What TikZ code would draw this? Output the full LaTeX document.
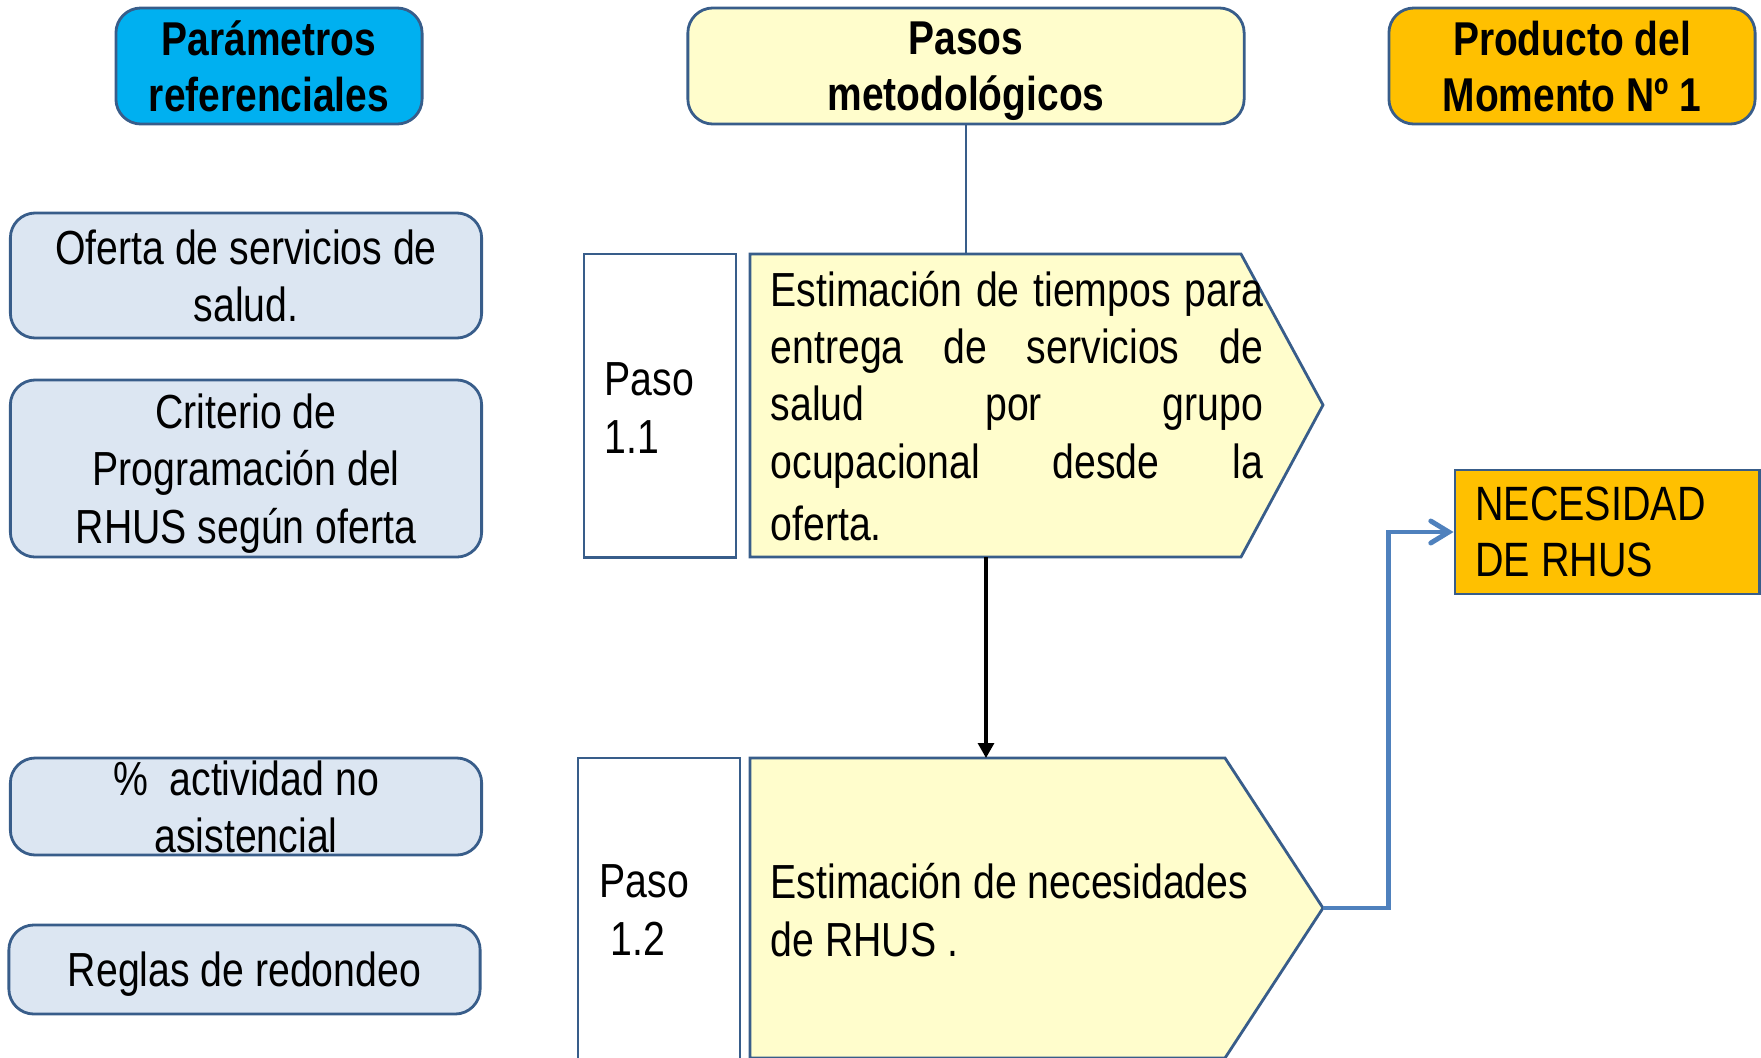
\documentclass[tikz,border=0pt]{standalone}
\usepackage{fontspec}
\setmainfont{Liberation Sans}[FakeStretch=0.82]
\usetikzlibrary{arrows.meta}

\definecolor{borde}{HTML}{385D8A}
\definecolor{celeste}{HTML}{00B0F0}
\definecolor{crema}{HTML}{FFFDCC}
\definecolor{ambar}{HTML}{FFC000}
\definecolor{gris}{HTML}{DCE6F2}
\definecolor{flecha}{HTML}{4F81BD}

\newcommand{\linea}[1]{\makebox[4.92cm][s]{#1}}

\begin{document}
\begin{tikzpicture}[x=0.01cm,y=-0.01cm,
    letra/.style={font=\fontsize{13.6}{16.3}\selectfont,text depth=0pt},
    titulo/.style={draw=borde,line width=0.8pt,rounded corners=0.25cm,align=center,inner sep=0,minimum height=1.16cm,text depth=0pt,font=\fontsize{13.5}{16}\selectfont\bfseries},
    param/.style={draw=borde,line width=0.8pt,fill=gris,rounded corners=0.25cm,inner sep=0,minimum width=4.71cm},
    paso/.style={draw=borde,line width=0.8pt,fill=white,inner sep=0,minimum width=1.52cm},
    bloque/.style={draw=borde,line width=0.8pt,fill=crema}
]
\useasboundingbox (0,0) rectangle (1761,1057);

\node[titulo,fill=celeste,minimum width=3.06cm] (param) at (269,66) {Parámetros\\referenciales};
\node[titulo,fill=crema,minimum width=5.56cm] (pasos) at (966,66) {Pasos\\metodológicos};
\node[titulo,fill=ambar,minimum width=3.66cm] (producto) at (1572,66) {Producto del\\Momento Nº 1};

\node[param,minimum height=1.25cm,label={[letra,align=center]center:{Oferta de servicios de\\salud.}}] (oferta) at (246,275.5) {};
\node[param,minimum height=1.77cm,label={[letra,align=center]center:{Criterio de\\Programación del\\RHUS según oferta}}] (criterio) at (246,468.5) {};
\node[param,minimum height=0.97cm,label={[letra,align=center]center:{\%\ \ actividad no\\asistencial}}] (actividad) at (246,806.5) {};
\node[param,minimum height=0.89cm,label={[letra,align=center]center:{Reglas de redondeo}}] (reglas) at (244.5,969.5) {};

\node[paso,minimum height=3.03cm] (p11) at (660,405.5) {};
\node[letra,align=left,anchor=west,inner sep=0] (p11txt) at (604,408) {Paso\\1.1};
\node[paso,minimum width=1.62cm,minimum height=3.1cm] (p12) at (659,913) {};
\node[letra,align=left,anchor=west,inner sep=0] (p12txt) at (599,910) {Paso\\\ 1.2};

\filldraw[bloque] (750,254) -- (1241,254) -- (1323,405) coordinate (e1tip) -- (1241,557) -- (750,557) -- cycle;
\coordinate (e1n) at (966,254);
\coordinate (e1s) at (986,557);
\node[letra,align=left,anchor=west,inner sep=0] (e1txt) at (770,405.5)
  {\linea{Estimación de tiempos para}\\\linea{entrega de servicios de}\\\linea{salud por grupo}\\\linea{ocupacional desde la}\\[0.045cm]oferta.};

\filldraw[bloque] (750,758) -- (1225,758) -- (1323,908) coordinate (e2tip) -- (1225,1058) -- (750,1058) -- cycle;
\coordinate (e2n) at (986,758);
\node[letra,align=left,anchor=west,inner sep=0] (e2txt) at (770,910) {Estimación de necesidades\\de RHUS .};

\node[draw=borde,line width=0.8pt,fill=ambar,minimum width=3.04cm,minimum height=1.24cm,inner sep=0,
  label={[anchor=west,align=left,inner sep=0,xshift=0.21cm,text depth=0pt,font=\fontsize{13.7}{16}\selectfont]west:{NECESIDAD\\DE RHUS}}] (necesidad) at (1607,532) {};

\draw[borde,line width=0.8pt] (pasos.south) -- (e1n);
\draw[line width=0.9pt,-{Triangle[length=0.15cm,width=0.16cm]}] (e1s) -- (e2n);
\draw[flecha,line width=1.4pt,-{Straight Barb[length=0.18cm,width=0.22cm,line cap=round]}] (e2tip) -| ([xshift=-0.65cm]necesidad.west) -- (necesidad.west);
\end{tikzpicture}
\end{document}
